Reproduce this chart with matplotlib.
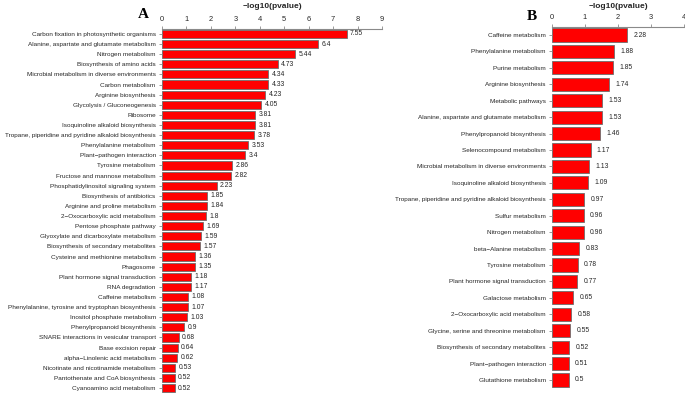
import matplotlib
matplotlib.use('Agg')
import matplotlib.pyplot as plt
import numpy as np

plt.rcParams['font.family'] = ['Liberation Sans', 'DejaVu Sans']

# panel A data
pathways_a = [
    'Carbon fixation in photosynthetic organisms',
    'Alanine, aspartate and glutamate metabolism',
    'Nitrogen metabolism',
    'Biosynthesis of amino acids',
    'Microbial metabolism in diverse environments',
    'Carbon metabolism',
    'Arginine biosynthesis',
    'Glycolysis / Gluconeogenesis',
    'Ribosome',
    'Isoquinoline alkaloid biosynthesis',
    'Tropane, piperidine and pyridine alkaloid biosynthesis',
    'Phenylalanine metabolism',
    'Plant\u2212pathogen interaction',
    'Tyrosine metabolism',
    'Fructose and mannose metabolism',
    'Phosphatidylinositol signaling system',
    'Biosynthesis of antibiotics',
    'Arginine and proline metabolism',
    '2\u2212Oxocarboxylic acid metabolism',
    'Pentose phosphate pathway',
    'Glyoxylate and dicarboxylate metabolism',
    'Biosynthesis of secondary metabolites',
    'Cysteine and methionine metabolism',
    'Phagosome',
    'Plant hormone signal transduction',
    'RNA degradation',
    'Caffeine metabolism',
    'Phenylalanine, tyrosine and tryptophan biosynthesis',
    'Inositol phosphate metabolism',
    'Phenylpropanoid biosynthesis',
    'SNARE interactions in vesicular transport',
    'Base excision repair',
    'alpha\u2212Linolenic acid metabolism',
    'Nicotinate and nicotinamide metabolism',
    'Pantothenate and CoA biosynthesis',
    'Cyanoamino acid metabolism',
]
values_a = [7.55, 6.4, 5.44, 4.73, 4.34, 4.33, 4.23, 4.05, 3.81, 3.81,
            3.78, 3.53, 3.4, 2.86, 2.82, 2.23, 1.85, 1.84, 1.8, 1.69,
            1.59, 1.57, 1.36, 1.35, 1.18, 1.17, 1.08, 1.07, 1.03, 0.9,
            0.68, 0.64, 0.62, 0.53, 0.52, 0.52]
ticks_a = [0, 1, 2, 3, 4, 5, 6, 7, 8, 9]

# panel B data
pathways_b = [
    'Caffeine metabolism',
    'Phenylalanine metabolism',
    'Purine metabolism',
    'Arginine biosynthesis',
    'Metabolic pathways',
    'Alanine, aspartate and glutamate metabolism',
    'Phenylpropanoid biosynthesis',
    'Selenocompound metabolism',
    'Microbial metabolism in diverse environments',
    'Isoquinoline alkaloid biosynthesis',
    'Tropane, piperidine and pyridine alkaloid biosynthesis',
    'Sulfur metabolism',
    'Nitrogen metabolism',
    'beta\u2212Alanine metabolism',
    'Tyrosine metabolism',
    'Plant hormone signal transduction',
    'Galactose metabolism',
    '2\u2212Oxocarboxylic acid metabolism',
    'Glycine, serine and threonine metabolism',
    'Biosynthesis of secondary metabolites',
    'Plant\u2212pathogen interaction',
    'Glutathione metabolism',
]
values_b = [2.28, 1.88, 1.85, 1.74, 1.53, 1.53, 1.46, 1.17, 1.13, 1.09,
            0.97, 0.96, 0.96, 0.83, 0.78, 0.77, 0.65, 0.58, 0.55, 0.52,
            0.51, 0.5]
ticks_b = [0, 1, 2, 3, 4]

W, H = 685, 396
GRAY = '#8a8a8a'
TXT = '#262626'


def panel(fig, box, names, vals, ticks, letter, letter_xy, lab_off):
    left, top, right, bottom = box
    ax = fig.add_axes([left / W, 1 - bottom / H, (right - left) / W, (bottom - top) / H])
    y = np.arange(len(names))
    ax.barh(y, vals, height=0.8, color='#ff0000', edgecolor='#6e6e6e', linewidth=0.6)
    ax.set_ylim(len(names) - 0.5, -0.5)
    ax.set_xlim(ticks[0], ticks[-1])
    ax.set_yticks(y)
    ax.set_yticklabels(names, fontsize=4.6, color=TXT)
    ax.set_xticks(ticks)
    ax.xaxis.tick_top()
    ax.tick_params(axis='x', direction='out', length=2.5, width=0.6, colors=GRAY,
                   labelcolor=TXT, labelsize=5.4, pad=1.5)
    ax.tick_params(axis='y', direction='out', length=2.5, width=0.6, colors=GRAY,
                   labelcolor=TXT, pad=2)
    for s in ['left', 'right', 'bottom']:
        ax.spines[s].set_visible(False)
    ax.spines['top'].set_color(GRAY)
    ax.spines['top'].set_linewidth(0.8)
    ax.spines['top'].set_bounds(ticks[0], ticks[-1])
    ax.patch.set_alpha(0)
    for yi, v in zip(y, vals):
        ax.annotate(f'{v:g}', (v, yi), xytext=(lab_off, 0), textcoords='offset points',
                    va='center', ha='left', fontsize=4.9, color=TXT)
    fig.text((left + right) / 2 / W, 1 - 6 / H, '\u2212log10(pvalue)', ha='center', va='center',
             fontsize=6, fontweight='bold', color=TXT)
    fig.text(letter_xy[0] / W, 1 - letter_xy[1] / H, letter, ha='center', va='center',
             fontsize=11, fontweight='bold', family=['Liberation Serif', 'DejaVu Serif'])
    return ax


def main():
    fig = plt.figure(figsize=(W / 100, H / 100), dpi=100, facecolor='white')
    panel(fig, (162, 28.9, 382, 393.1), pathways_a, values_a, ticks_a, 'A', (143, 15), 2.5)
    panel(fig, (552, 26.8, 684, 388.2), pathways_b, values_b, ticks_b, 'B', (532, 16), 4.5)
    fig.savefig('out.png', dpi=100, facecolor='white')


if __name__ == '__main__':
    main()
